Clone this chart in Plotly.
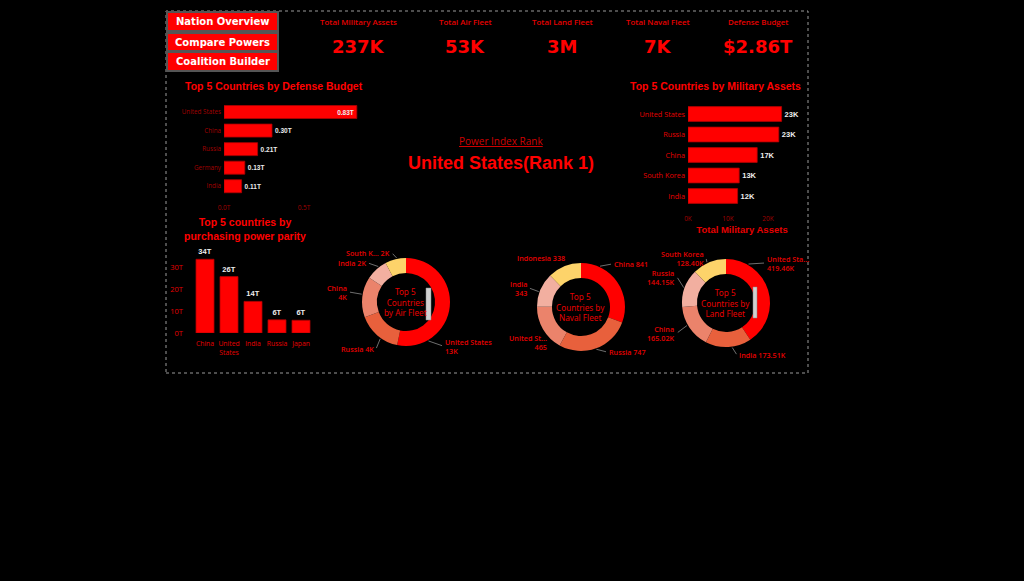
import math
import plotly.graph_objects as go

# ---------------- data ----------------
budget_countries = ["United States", "China", "Russia", "Germany", "India"]
budget_values = [0.83, 0.30, 0.21, 0.13, 0.11]           # trillions USD

assets_countries = ["United States", "Russia", "China", "South Korea", "India"]
assets_values = [23.4, 22.7, 17.3, 12.8, 12.4]            # thousands

ppp_countries = ["China", "United<br>States", "India", "Russia", "Japan"]
ppp_values = [33.6, 25.7, 14.4, 6.0, 5.8]                 # trillions

air_countries = ["United States", "Russia", "China", "India", "South Korea"]
air_values = [13.2, 4.0, 3.7, 2.0, 1.9]                   # thousands
air_names = ["United States<br>", "Russia ", "China<br>", "India ", "South K... "]

naval_countries = ["China", "Russia", "United States", "India", "Indonesia"]
naval_values = [841, 747, 465, 343, 338]
naval_names = ["China ", "Russia ", "United St...<br>", "India<br>", "Indonesia "]

land_countries = ["United States", "India", "China", "Russia", "South Korea"]
land_values = [419.46, 173.51, 165.02, 144.15, 128.40]   # thousands
land_names = ["United Sta...<br>", "India ", "China<br>", "Russia<br>", "South Korea<br>"]

kpi_titles = ["Total Military Assets", "Total Air Fleet", "Total Land Fleet", "Total Naval Fleet", "Defense Budget"]
kpi_values = ["237K", "53K", "3M", "7K", "$2.86T"]

nav_buttons = ["Nation Overview", "Compare Powers", "Coalition Builder"]

budget_ticks = [0, 0.5]
budget_ticktext = ["0.0T", "0.5T"]
assets_ticks = [0, 10, 20]
assets_ticktext = ["0K", "10K", "20K"]
ppp_ticks = [0, 10, 20, 30]
ppp_ticktext = ["0T", "10T", "20T", "30T"]

# ---------------- style / layout ----------------
W, H = 1024, 581
def X(px): return px / W
def Y(py): return 1 - py / H

RED = "#FF0000"
TXT = "#E60000"
DARK = "#A00000"
PIE_COLORS = ["#FF0000", "#E8603C", "#EB836B", "#F2AFA0", "#FDD36A"]
SMALL = "Open Sans"
HEAVY = "DejaVu Sans"
BOLD = "Liberation Sans"

fig = go.Figure()

# defense budget bar
fig.add_trace(go.Bar(
    x=budget_values, y=budget_countries, orientation="h",
    marker=dict(color=RED, line=dict(color="#B00000", width=0.8)), width=0.7,
    text=[f"{v:.2f}T" for v in budget_values],
    textposition=["inside"] + ["outside"] * 4, insidetextanchor="end",
    textfont=dict(family=BOLD, size=6.5, color="#EEEEEE", weight="bold"),
    cliponaxis=False, xaxis="x", yaxis="y", showlegend=False))

# military assets bar
fig.add_trace(go.Bar(
    x=assets_values, y=assets_countries, orientation="h",
    marker=dict(color=RED, line=dict(color="#B00000", width=0.8)), width=0.72,
    text=[f"{v:.0f}K" for v in assets_values], textposition="outside",
    textfont=dict(family=BOLD, size=7.5, color="#EEEEEE", weight="bold"),
    cliponaxis=False, xaxis="x2", yaxis="y2", showlegend=False))

# PPP bar
fig.add_trace(go.Bar(
    x=ppp_countries, y=ppp_values,
    marker=dict(color=RED, line=dict(color="#B00000", width=0.8)), width=0.75,
    text=[f"{v:.0f}T" for v in ppp_values], textposition="outside",
    textfont=dict(family=BOLD, size=7.5, color="#EEEEEE", weight="bold"),
    cliponaxis=False, xaxis="x3", yaxis="y3", showlegend=False))

# donuts
R = 44
donuts = [
    (air_countries, air_values, (406, 302)),
    (naval_countries, naval_values, (581, 307)),
    (land_countries, land_values, (726, 303)),
]
for labels, vals, (cx, cy) in donuts:
    fig.add_trace(go.Pie(
        labels=labels, values=vals, hole=0.66, sort=False, direction="clockwise",
        rotation=0, textinfo="none", showlegend=False, automargin=False,
        marker=dict(colors=PIE_COLORS, line=dict(color="#000000", width=0)),
        domain=dict(x=[X(cx - R), X(cx + R)], y=[Y(cy + R), Y(cy - R)])))

ax_common = dict(showgrid=False, zeroline=False, showline=False, ticks="", automargin=False)
fig.update_layout(
    width=W, height=H, margin=dict(l=0, r=0, t=0, b=0, pad=0, autoexpand=False),
    paper_bgcolor="black", plot_bgcolor="black",
    xaxis=dict(domain=[X(224), X(364)], range=[0, 0.875], tickvals=budget_ticks,
               ticktext=budget_ticktext, tickfont=dict(family=SMALL, size=6.5, color=DARK),
               ticklabelstandoff=7, anchor="y", **ax_common),
    yaxis=dict(domain=[Y(195.5), Y(102.75)], autorange="reversed", ticklabelstandoff=2,
               tickfont=dict(family=SMALL, size=6.3, color=DARK), anchor="x", **ax_common),
    xaxis2=dict(domain=[X(688), X(796)], range=[0, 27], tickvals=assets_ticks,
                ticktext=assets_ticktext, tickfont=dict(family=SMALL, size=6.5, color=DARK),
                ticklabelstandoff=7,
                title=dict(text="Total Military Assets", standoff=4,
                           font=dict(family=BOLD, size=9.5, color=TXT, weight="bold")),
                anchor="y2", **ax_common),
    yaxis2=dict(domain=[Y(206.25), Y(103.75)], autorange="reversed", ticklabelstandoff=2,
                tickfont=dict(family=SMALL, size=7.3, color=TXT), anchor="x2", **ax_common),
    xaxis3=dict(domain=[X(193), X(313)], tickfont=dict(family=SMALL, size=6.8, color=TXT),
                ticklabelstandoff=5, anchor="y3", **ax_common),
    yaxis3=dict(domain=[Y(333), Y(254)], range=[0, 36], tickvals=ppp_ticks,
                ticktext=ppp_ticktext, tickfont=dict(family=SMALL, size=7.5, color=TXT),
                ticklabelstandoff=9, anchor="x3", **ax_common),
)

shapes = []
annotations = []

def note(text, px, py, font, xanchor="center", yanchor="middle", **kw):
    annotations.append(dict(text=text, x=X(px), y=Y(py), xref="paper", yref="paper",
                            xanchor=xanchor, yanchor=yanchor, showarrow=False, font=font, **kw))

# dashboard frame
shapes.append(dict(type="rect", xref="paper", yref="paper", x0=X(166), x1=X(808), y0=Y(373), y1=Y(11),
                   line=dict(color="#9A9A9A", width=1, dash="dot")))

# navigation buttons
btn_rows = [(12, 31), (33, 51), (52, 71)]
for label, (t, b) in zip(nav_buttons, btn_rows):
    shapes.append(dict(type="rect", xref="paper", yref="paper", x0=X(167), x1=X(278), y0=Y(b), y1=Y(t),
                       fillcolor=RED, line=dict(color="#555555", width=2)))
    note(label, 222.5, (t + b) / 2, dict(family=HEAVY, size=10, color="white", weight="bold"))

# KPI cards
kpi_x = [358, 465, 562, 658, 758]
for t, v, cx in zip(kpi_titles, kpi_values, kpi_x):
    note(t, cx, 22, dict(family=SMALL, size=7.9, color=TXT, weight=600))
    note(v, cx, 46, dict(family=HEAVY, size=18, color=RED, weight="bold"))

# chart titles
title_font = dict(family=BOLD, size=10.5, color=RED, weight="bold")
note("Top 5 Countries by Defense Budget", 183, 86, title_font, xanchor="left")
note("Top 5 Countries by Military Assets", 803, 86, title_font, xanchor="right")
note("Top 5 countries by<br>purchasing power parity", 245, 229, title_font)

# power index
note("<u>Power Index Rank</u>", 501, 141, dict(family=SMALL, size=10, color="#D00000"))
note("United States(Rank 1)", 501, 163, dict(family=BOLD, size=18, color=RED, weight="bold"))

# donut centre texts
centre_texts = ["Top 5<br>Countries<br>by Air Fleet", "Top 5<br>Countries by<br>Naval Fleet",
                "Top 5<br>Countries by<br>Land Fleet"]
for txt, (_, _, (cx, cy)) in zip(centre_texts, donuts):
    note(txt, cx - 1, cy, dict(family="Noto Sans", size=8.2, color=TXT))

# scrollbar artefacts inside two donuts
for x0, x1, y0, y1 in [(426, 431, 288, 320), (753, 757, 287, 318)]:
    shapes.append(dict(type="rect", xref="paper", yref="paper", x0=X(x0), x1=X(x1), y0=Y(y1), y1=Y(y0),
                       fillcolor="#D0D0D0", line=dict(color="#888888", width=0.5)))

# donut slice labels with leader lines
air_layout = [(150, 443, 346, "left"), (215, 376, 349, "right"), (280, 349, 292, "right"),
              (322, 368, 263, "right"), (348, 392, 253, "right")]
naval_layout = [(25, 612, 264, "left"), (160, 607, 352, "left"), (235, 549, 342, "right"),
                (290, 529, 288, "right"), (340, 567, 258, "right")]
land_layout = [(30, 765, 263, "left"), (172, 737, 355, "left"), (240, 677, 333, "right"),
               (290, 677, 277, "right"), (335, 706, 258, "right")]

air_text = [f"{n}{v:.0f}K" for n, v in zip(air_names, air_values)]
naval_text = [f"{n}{v}" for n, v in zip(naval_names, naval_values)]
land_text = [f"{n}{v:.2f}K" for n, v in zip(land_names, land_values)]

for texts, lay, (_, _, (cx, cy)) in zip([air_text, naval_text, land_text],
                                        [air_layout, naval_layout, land_layout], donuts):
    for txt, (ang, tx, ty, anc) in zip(texts, lay):
        a = math.radians(ang)
        hx = cx + (R + 1) * math.sin(a)
        hy = cy - (R + 1) * math.cos(a)
        annotations.append(dict(text=txt, x=X(hx), y=Y(hy), xref="paper", yref="paper",
                                ax=tx - hx, ay=ty - hy, xanchor=anc, yanchor="middle",
                                align=anc, showarrow=True, arrowhead=0, arrowwidth=0.8,
                                arrowcolor="#8A8A8A", standoff=0, startstandoff=1,
                                font=dict(family=SMALL, size=7.2, color=TXT, weight=600)))

fig.update_layout(shapes=shapes, annotations=annotations)
fig.write_html("out.html")
